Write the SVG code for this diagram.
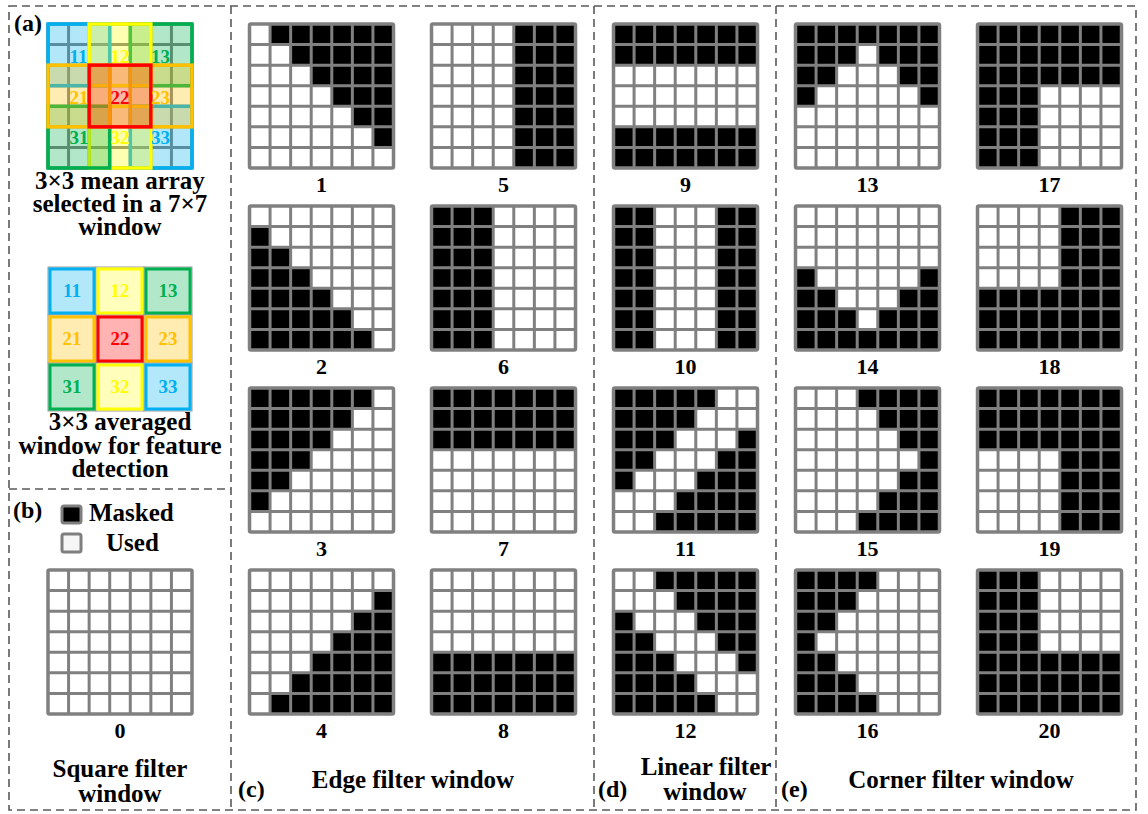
<svg xmlns="http://www.w3.org/2000/svg" width="1148" height="814" viewBox="0 0 1148 814">
<style>
.t{font-family:"Liberation Serif","Times New Roman",serif;font-weight:bold;fill:#000}
.lab{font-size:25px;text-anchor:middle}
.num{font-size:22px;text-anchor:middle}
.pl{font-size:24px}
.cn{font-size:19px;text-anchor:middle}
.dash{fill:none;stroke:#5a5a5a;stroke-width:1.6;stroke-dasharray:8 5}
.m{fill:#000}
.bg{fill:#fff}
.w{fill-opacity:0.3;stroke-width:3.5}
</style>
<defs>
<g id="gl">
<path d="M20.57 0V144M41.14 0V144M61.71 0V144M82.29 0V144M102.86 0V144M123.43 0V144M0 20.57H144M0 41.14H144M0 61.71H144M0 82.29H144M0 102.86H144M0 123.43H144" fill="none" stroke="#808080" stroke-width="3"/>
<rect x="0" y="0" width="144" height="144" rx="1.5" fill="none" stroke="#808080" stroke-width="3.5"/>
</g>
</defs>
<rect width="1148" height="814" fill="#fff"/>

<g id="panels">
<rect class="dash" x="9" y="6" width="1127" height="804"/>
<path class="dash" d="M231 6V810M9 489H231M594 6V810M776 6V810"/>
</g>

<!-- panel a -->
<g id="mean-array" transform="translate(48,24)">
<rect class="bg" width="144" height="144"/>
<use href="#gl"/>
<rect class="w" x="0" y="0" width="61.71" height="61.71" fill="#00b0f0" stroke="#00b0f0"/>
<rect class="w" x="82.29" y="0" width="61.71" height="61.71" fill="#00b050" stroke="#00b050"/>
<rect class="w" x="41.14" y="0" width="61.71" height="61.71" fill="#ffff00" stroke="#ffff00"/>
<rect class="w" x="82.29" y="82.29" width="61.71" height="61.71" fill="#00b0f0" stroke="#00b0f0"/>
<rect class="w" x="41.14" y="82.29" width="61.71" height="61.71" fill="#ffff00" stroke="#ffff00"/>
<rect class="w" x="0" y="82.29" width="61.71" height="61.71" fill="#00b050" stroke="#00b050"/>
<rect class="w" x="0" y="41.14" width="61.71" height="61.71" fill="#ffc000" stroke="#ffc000"/>
<rect class="w" x="82.29" y="41.14" width="61.71" height="61.71" fill="#ffc000" stroke="#ffc000"/>
<rect x="41.14" y="41.14" width="61.71" height="61.71" fill="#f05020" fill-opacity="0.4" stroke="#ff0000" stroke-width="3.5"/>
<text class="t cn" x="30.5" y="39" style="fill:#00b0f0">11</text>
<text class="t cn" x="72" y="39" style="fill:#ffff00">12</text>
<text class="t cn" x="112.5" y="39" style="fill:#00b050">13</text>
<text class="t cn" x="31" y="79.5" style="fill:#ffc000">21</text>
<text class="t cn" x="72" y="79.5" style="fill:#ff0000">22</text>
<text class="t cn" x="112.5" y="79.5" style="fill:#ffc000">23</text>
<text class="t cn" x="31" y="119.5" style="fill:#00b050">31</text>
<text class="t cn" x="72" y="119.5" style="fill:#ffff00">32</text>
<text class="t cn" x="112.5" y="119.5" style="fill:#00b0f0">33</text>
</g>
<g id="label-a">
<text class="t pl" x="14" y="31">(a)</text>
<text class="t lab" x="120" y="189">3×3 mean array</text>
<text class="t lab" x="120" y="212">selected in a 7×7</text>
<text class="t lab" x="120" y="235">window</text>
</g>

<g id="averaged-window">
<rect x="48" y="267" width="48" height="48" fill="#b3e7fa" stroke="#999" stroke-width="1"/>
<rect x="96" y="267" width="48" height="48" fill="#ffffbb" stroke="#999" stroke-width="1"/>
<rect x="144" y="267" width="48" height="48" fill="#b3e7ca" stroke="#999" stroke-width="1"/>
<rect x="48" y="315" width="48" height="48" fill="#ffecb3" stroke="#999" stroke-width="1"/>
<rect x="96" y="315" width="48" height="48" fill="#ffb3b3" stroke="#999" stroke-width="1"/>
<rect x="144" y="315" width="48" height="48" fill="#ffecb3" stroke="#999" stroke-width="1"/>
<rect x="48" y="363" width="48" height="48" fill="#b3e7ca" stroke="#999" stroke-width="1"/>
<rect x="96" y="363" width="48" height="48" fill="#ffffbb" stroke="#999" stroke-width="1"/>
<rect x="144" y="363" width="48" height="48" fill="#b3e7fa" stroke="#999" stroke-width="1"/>
<rect x="50" y="269" width="44" height="44" fill="none" stroke="#00b0f0" stroke-width="3"/>
<rect x="98" y="269" width="44" height="44" fill="none" stroke="#ffff00" stroke-width="3"/>
<rect x="146" y="269" width="44" height="44" fill="none" stroke="#00b050" stroke-width="3"/>
<rect x="50" y="317" width="44" height="44" fill="none" stroke="#ffc000" stroke-width="3"/>
<rect x="98" y="317" width="44" height="44" fill="none" stroke="#ff0000" stroke-width="3"/>
<rect x="146" y="317" width="44" height="44" fill="none" stroke="#ffc000" stroke-width="3"/>
<rect x="50" y="365" width="44" height="44" fill="none" stroke="#00b050" stroke-width="3"/>
<rect x="98" y="365" width="44" height="44" fill="none" stroke="#ffff00" stroke-width="3"/>
<rect x="146" y="365" width="44" height="44" fill="none" stroke="#00b0f0" stroke-width="3"/>
<text class="t cn" x="72" y="297" style="fill:#00b0f0">11</text>
<text class="t cn" x="120" y="297" style="fill:#ffff00">12</text>
<text class="t cn" x="168" y="297" style="fill:#00b050">13</text>
<text class="t cn" x="72" y="345" style="fill:#ffc000">21</text>
<text class="t cn" x="120" y="345" style="fill:#ff0000">22</text>
<text class="t cn" x="168" y="345" style="fill:#ffc000">23</text>
<text class="t cn" x="72" y="393" style="fill:#00b050">31</text>
<text class="t cn" x="120" y="393" style="fill:#ffff00">32</text>
<text class="t cn" x="168" y="393" style="fill:#00b0f0">33</text>
<text class="t lab" x="120" y="430">3×3 averaged</text>
<text class="t lab" x="120" y="454">window for feature</text>
<text class="t lab" x="120" y="477">detection</text>
</g>

<!-- panel b -->
<g id="legend">
<text class="t pl" x="13" y="518">(b)</text>
<rect x="62" y="506" width="19" height="17" rx="2" fill="#000" stroke="#7f7f7f" stroke-width="3"/>
<text class="t" style="font-size:25px" x="89" y="521">Masked</text>
<rect x="62" y="534" width="19" height="18" rx="2" fill="#f6f6f6" stroke="#7f7f7f" stroke-width="3"/>
<text class="t" style="font-size:25px" x="106" y="551">Used</text>
</g>
<g id="g0" transform="translate(48,570)"><rect class="bg" width="144" height="144"/><use href="#gl"/></g>
<text class="t num" x="120" y="738">0</text>
<text class="t lab" x="120" y="777">Square filter</text>
<text class="t lab" x="120" y="802">window</text>

<!-- panel c -->
<g id="g1" transform="translate(249.5,24)"><rect class="bg" width="144" height="144"/><path class="m" transform="scale(20.5714)" d="M1 0H7V6H6V5H5V4H4V3H3V2H2V1H1Z"/><use href="#gl"/></g>
<g id="g2" transform="translate(249.5,206)"><rect class="bg" width="144" height="144"/><path class="m" transform="scale(20.5714)" d="M0 1H1V2H2V3H3V4H4V5H5V6H6V7H0Z"/><use href="#gl"/></g>
<g id="g3" transform="translate(249.5,388)"><rect class="bg" width="144" height="144"/><path class="m" transform="scale(20.5714)" d="M0 0H6V1H5V2H4V3H3V4H2V5H1V6H0Z"/><use href="#gl"/></g>
<g id="g4" transform="translate(249.5,570)"><rect class="bg" width="144" height="144"/><path class="m" transform="scale(20.5714)" d="M7 1V7H1V6H2V5H3V4H4V3H5V2H6V1Z"/><use href="#gl"/></g>
<g id="g5" transform="translate(431.5,24)"><rect class="bg" width="144" height="144"/><path class="m" transform="scale(20.5714)" d="M4 0H7V7H4Z"/><use href="#gl"/></g>
<g id="g6" transform="translate(431.5,206)"><rect class="bg" width="144" height="144"/><path class="m" transform="scale(20.5714)" d="M0 0H3V7H0Z"/><use href="#gl"/></g>
<g id="g7" transform="translate(431.5,388)"><rect class="bg" width="144" height="144"/><path class="m" transform="scale(20.5714)" d="M0 0H7V3H0Z"/><use href="#gl"/></g>
<g id="g8" transform="translate(431.5,570)"><rect class="bg" width="144" height="144"/><path class="m" transform="scale(20.5714)" d="M0 4H7V7H0Z"/><use href="#gl"/></g>
<g id="labels-c">
<text class="t num" x="321.5" y="192">1</text>
<text class="t num" x="321.5" y="374">2</text>
<text class="t num" x="321.5" y="556">3</text>
<text class="t num" x="321.5" y="738">4</text>
<text class="t num" x="503.5" y="192">5</text>
<text class="t num" x="503.5" y="374">6</text>
<text class="t num" x="503.5" y="556">7</text>
<text class="t num" x="503.5" y="738">8</text>
<text class="t pl" x="238" y="797">(c)</text>
<text class="t lab" x="413" y="788">Edge filter window</text>
</g>

<!-- panel d -->
<g id="g9" transform="translate(613.5,24)"><rect class="bg" width="144" height="144"/><path class="m" transform="scale(20.5714)" d="M0 0H7V2H0ZM0 5H7V7H0Z"/><use href="#gl"/></g>
<g id="g10" transform="translate(613.5,206)"><rect class="bg" width="144" height="144"/><path class="m" transform="scale(20.5714)" d="M0 0H2V7H0ZM5 0H7V7H5Z"/><use href="#gl"/></g>
<g id="g11" transform="translate(613.5,388)"><rect class="bg" width="144" height="144"/><path class="m" transform="scale(20.5714)" d="M0 0H5V1H4V2H3V3H2V4H1V5H0ZM7 2V7H2V6H3V5H4V4H5V3H6V2Z"/><use href="#gl"/></g>
<g id="g12" transform="translate(613.5,570)"><rect class="bg" width="144" height="144"/><path class="m" transform="scale(20.5714)" d="M2 0H7V5H6V4H5V3H4V2H3V1H2ZM0 2H1V3H2V4H3V5H4V6H5V7H0Z"/><use href="#gl"/></g>
<g id="labels-d">
<text class="t num" x="685.5" y="192">9</text>
<text class="t num" x="685.5" y="374">10</text>
<text class="t num" x="685.5" y="556">11</text>
<text class="t num" x="685.5" y="738">12</text>
<text class="t pl" x="598" y="797">(d)</text>
<text class="t lab" x="706" y="775">Linear filter</text>
<text class="t lab" x="705" y="800">window</text>
</g>

<!-- panel e -->
<g id="g13" transform="translate(795.5,24)"><rect class="bg" width="144" height="144"/><path class="m" transform="scale(20.5714)" d="M0 0H7V4H6V3H5V2H4V1H3V2H2V3H1V4H0Z"/><use href="#gl"/></g>
<g id="g14" transform="translate(795.5,206)"><rect class="bg" width="144" height="144"/><path class="m" transform="scale(20.5714)" d="M0 3H1V4H2V5H3V6H4V5H5V4H6V3H7V7H0Z"/><use href="#gl"/></g>
<g id="g15" transform="translate(795.5,388)"><rect class="bg" width="144" height="144"/><path class="m" transform="scale(20.5714)" d="M3 0H7V7H3V6H4V5H5V4H6V3H5V2H4V1H3Z"/><use href="#gl"/></g>
<g id="g16" transform="translate(795.5,570)"><rect class="bg" width="144" height="144"/><path class="m" transform="scale(20.5714)" d="M0 0H4V1H3V2H2V3H1V4H2V5H3V6H4V7H0Z"/><use href="#gl"/></g>
<g id="g17" transform="translate(977.5,24)"><rect class="bg" width="144" height="144"/><path class="m" transform="scale(20.5714)" d="M0 0H7V3H3V7H0Z"/><use href="#gl"/></g>
<g id="g18" transform="translate(977.5,206)"><rect class="bg" width="144" height="144"/><path class="m" transform="scale(20.5714)" d="M4 0H7V7H0V4H4Z"/><use href="#gl"/></g>
<g id="g19" transform="translate(977.5,388)"><rect class="bg" width="144" height="144"/><path class="m" transform="scale(20.5714)" d="M0 0H7V7H4V3H0Z"/><use href="#gl"/></g>
<g id="g20" transform="translate(977.5,570)"><rect class="bg" width="144" height="144"/><path class="m" transform="scale(20.5714)" d="M0 0H3V4H7V7H0Z"/><use href="#gl"/></g>
<g id="labels-e">
<text class="t num" x="867.5" y="192">13</text>
<text class="t num" x="867.5" y="374">14</text>
<text class="t num" x="867.5" y="556">15</text>
<text class="t num" x="867.5" y="738">16</text>
<text class="t num" x="1049.5" y="192">17</text>
<text class="t num" x="1049.5" y="374">18</text>
<text class="t num" x="1049.5" y="556">19</text>
<text class="t num" x="1049.5" y="738">20</text>
<text class="t pl" x="781" y="797">(e)</text>
<text class="t lab" x="961" y="788">Corner filter window</text>
</g>
</svg>
